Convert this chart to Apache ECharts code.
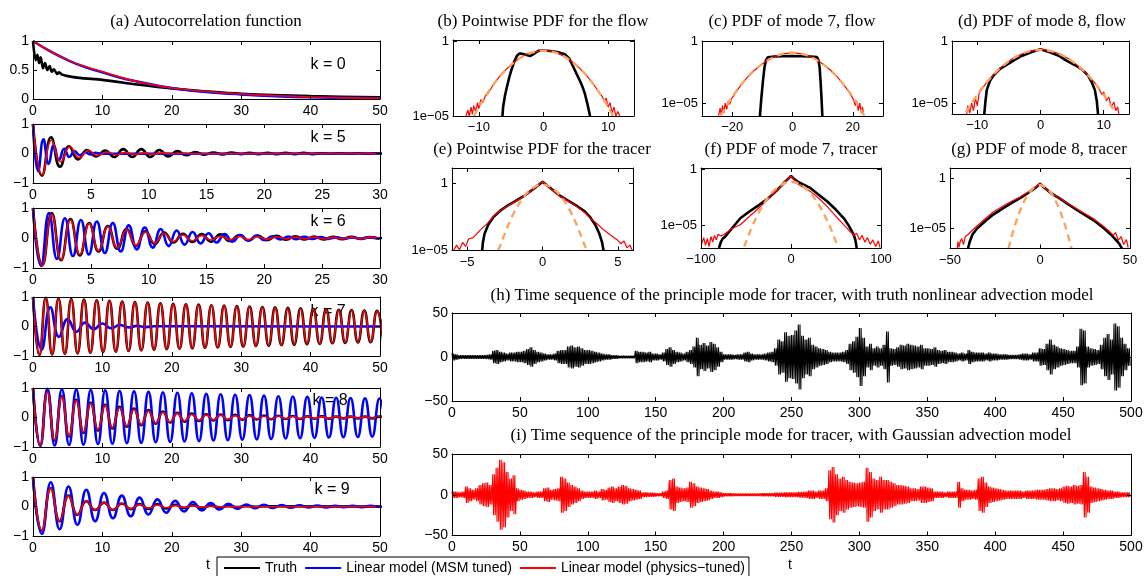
<!DOCTYPE html>
<html>
<head>
<meta charset="utf-8">
<script src="https://cdn.jsdelivr.net/npm/echarts@6/dist/echarts.min.js"></script>
<style>html,body{margin:0;padding:0;background:#fff}#chart{width:1146px;height:576px}</style>
</head>
<body>
<div id="chart"></div>
<script>
// ---------- (a) autocorrelation functions ----------
// k = 0: lags and values
const k0Lag   = [0, 0.38, 0.63, 0.87, 1.1, 1.44, 1.73, 2.07, 2.4, 2.7, 3.0, 3.5, 3.75, 4.2, 5.2, 7, 10, 15, 20, 25, 30, 40, 50];
const k0Truth = [1, 0.67, 0.76, 0.62, 0.72, 0.53, 0.62, 0.5, 0.57, 0.47, 0.51, 0.43, 0.46, 0.42, 0.39, 0.36, 0.33, 0.25, 0.18, 0.13, 0.09, 0.05, 0.03];
const k0FitLag = [0, 2.5, 5, 7.5, 10, 12.5, 15, 17.5, 20, 25, 30, 35, 40, 45, 50];
const k0MSM    = [1, 0.82, 0.67, 0.55, 0.46, 0.37, 0.3, 0.24, 0.19, 0.12, 0.08, 0.05, 0.03, 0.02, 0.01];
const k0Phys   = [1, 0.82, 0.67, 0.56, 0.47, 0.38, 0.3, 0.24, 0.19, 0.13, 0.086, 0.055, 0.034, 0.02, 0.011];

// k = 5..9: successive extremes of each oscillating ACF, one per half period
const k5TruthStep = 0.78;
const k5Truth = [1, -0.75, 0.55, -0.45, 0.24, -0.2, 0.12, -0.1, 0.1, -0.12, 0.15, -0.12, 0.15, -0.12, 0.12, -0.1, 0.08, -0.06, 0.05, -0.04, 0.03, -0.03, 0.03, -0.02, 0.02, -0.02, 0.02, -0.02, 0.02, -0.02, 0.02, -0.02, 0.01, -0.01, 0.01, -0.01, 0.01, -0.01, 0.01, -0.01];
const k5MSMStep = 0.45;
const k5MSM = [1, -0.6, 0.48, -0.35, 0.28, -0.22, 0.16, -0.12, 0.08, -0.06, 0.04, -0.03, 0.02, -0.01];
const k5PhysStep = 0.8;
const k5Phys = [1, -0.72, 0.45, -0.28, 0.23, -0.15, 0.1, -0.07, 0.05, -0.04, 0.03, -0.03, 0.02, -0.02, 0.02, -0.01, 0.01, -0.01];

const k6TruthStep = 0.81;
const k6Truth = [1, -0.91, 0.83, -0.74, 0.63, -0.58, 0.5, -0.45, 0.4, -0.36, 0.3, -0.26, 0.22, -0.2, 0.18, -0.15, 0.14, -0.13, 0.13, -0.12, 0.12, -0.1, 0.1, -0.09, 0.08, -0.07, 0.07, -0.06, 0.06, -0.05, 0.05, -0.05, 0.04, -0.04, 0.04, -0.03, 0.03, -0.03];
const k6MSMStep = 0.69;
const k6MSM = [1, -0.93, 0.83, -0.7, 0.66, -0.6, 0.6, -0.55, 0.55, -0.5, 0.5, -0.45, 0.42, -0.38, 0.35, -0.32, 0.3, -0.27, 0.25, -0.22, 0.2, -0.18, 0.16, -0.15, 0.13, -0.12, 0.1, -0.09, 0.08, -0.07, 0.06, -0.05, 0.05, -0.04, 0.04, -0.03, 0.03, -0.03, 0.02, -0.02, 0.02, -0.02, 0.02, -0.01, 0.01];
const k6PhysStep = 0.81;
const k6Phys = [1, -0.92, 0.78, -0.72, 0.6, -0.55, 0.48, -0.42, 0.38, -0.33, 0.28, -0.24, 0.2, -0.17, 0.15, -0.12, 0.1, -0.09, 0.08, -0.07, 0.06, -0.06, 0.05, -0.05, 0.04, -0.04, 0.04, -0.03, 0.03, -0.03, 0.03, -0.03, 0.02, -0.02, 0.02, -0.02, 0.02, -0.02];

const k7TruthStep = 0.918;
const k7Truth = [1, -0.97, 0.97, -0.95, 0.95, -0.93, 0.93, -0.91, 0.91, -0.89, 0.89, -0.87, 0.87, -0.85, 0.85, -0.83, 0.83, -0.81, 0.81, -0.79, 0.79, -0.77, 0.77, -0.75, 0.75, -0.74, 0.74, -0.72, 0.72, -0.71, 0.71, -0.69, 0.69, -0.68, 0.68, -0.66, 0.66, -0.65, 0.65, -0.63, 0.63, -0.62, 0.62, -0.6, 0.6, -0.59, 0.59, -0.57, 0.57, -0.56, 0.56, -0.54, 0.54, -0.53, 0.53, -0.52];
const k7MSMStep = 1.25;
const k7MSM = [1, -0.78, 0.65, -0.35, 0.25, -0.18, 0.13, -0.09, 0.1, -0.06, 0.05, -0.03, 0.02, -0.02, 0.01];
const k7PhysStep = 0.918;
const k7Phys = [1, -0.97, 0.96, -0.95, 0.94, -0.93, 0.92, -0.91, 0.9, -0.89, 0.88, -0.87, 0.86, -0.85, 0.84, -0.83, 0.82, -0.81, 0.8, -0.79, 0.78, -0.77, 0.76, -0.75, 0.74, -0.73, 0.73, -0.72, 0.71, -0.7, 0.7, -0.69, 0.68, -0.67, 0.67, -0.66, 0.65, -0.64, 0.64, -0.63, 0.62, -0.61, 0.61, -0.6, 0.59, -0.58, 0.58, -0.57, 0.56, -0.55, 0.55, -0.54, 0.53, -0.52, 0.52, -0.51];

const k8TruthStep = 1.04;
const k8Truth = [1, -0.95, 0.88, -0.78, 0.72, -0.64, 0.6, -0.52, 0.5, -0.44, 0.43, -0.37, 0.36, -0.31, 0.3, -0.26, 0.25, -0.21, 0.2, -0.17, 0.16, -0.14, 0.13, -0.12, 0.11, -0.1, 0.1, -0.09, 0.09, -0.08, 0.08, -0.07, 0.07, -0.06, 0.06, -0.05, 0.05, -0.05, 0.04, -0.04, 0.04, -0.04, 0.03, -0.03, 0.03, -0.03, 0.03, -0.03, 0.03, -0.03];
const k8MSMStep = 1.04;
const k8MSM = [1, -0.97, 0.97, -0.95, 0.96, -0.93, 0.95, -0.92, 0.93, -0.9, 0.92, -0.89, 0.9, -0.87, 0.89, -0.86, 0.87, -0.84, 0.85, -0.83, 0.84, -0.81, 0.82, -0.8, 0.8, -0.78, 0.79, -0.77, 0.77, -0.75, 0.76, -0.74, 0.74, -0.73, 0.72, -0.71, 0.71, -0.7, 0.7, -0.69, 0.68, -0.68, 0.67, -0.67, 0.66, -0.66, 0.65, -0.65, 0.64, -0.64];
const k8PhysStep = 1.04;
const k8Phys = [1, -0.95, 0.86, -0.76, 0.7, -0.62, 0.58, -0.5, 0.48, -0.42, 0.41, -0.35, 0.34, -0.29, 0.28, -0.24, 0.23, -0.19, 0.18, -0.15, 0.14, -0.12, 0.11, -0.1, 0.09, -0.08, 0.08, -0.07, 0.07, -0.06, 0.06, -0.05, 0.05, -0.05, 0.05, -0.04, 0.04, -0.04, 0.04, -0.03, 0.03, -0.03, 0.03, -0.03, 0.03, -0.02, 0.02, -0.02, 0.02, -0.02];

const k9TruthStep = 1.28;
const k9Truth = [1, -0.82, 0.62, -0.5, 0.37, -0.28, 0.18, -0.12, 0.13, -0.12, 0.1, -0.09, 0.08, -0.08, 0.08, -0.07, 0.06, -0.05, 0.04, -0.04, 0.03, -0.03, 0.02, -0.02, 0.02, -0.01, 0.01];
const k9MSMStep = 1.28;
const k9MSM = [1, -0.93, 0.82, -0.77, 0.68, -0.62, 0.57, -0.5, 0.46, -0.4, 0.37, -0.33, 0.3, -0.27, 0.24, -0.21, 0.19, -0.17, 0.15, -0.13, 0.12, -0.1, 0.09, -0.08, 0.07, -0.06, 0.06, -0.05, 0.05, -0.04, 0.04, -0.03, 0.03, -0.03, 0.02, -0.02, 0.02, -0.02, 0.02, -0.01, 0.01];
const k9PhysStep = 1.28;
const k9Phys = [1, -0.8, 0.62, -0.5, 0.36, -0.28, 0.18, -0.12, 0.13, -0.12, 0.1, -0.08, 0.07, -0.06, 0.05, -0.04, 0.03, -0.03, 0.02, -0.02, 0.01, -0.01];

// ---------- (b)-(g) PDFs: [x, log10 p] ----------
const pdfB_truth = [[-6.35,-5],[-6.25,-4.4],[-5.95,-3.6],[-5.63,-3.0],[-5.3,-2.4],[-4.96,-1.9],[-4.5,-1.3],[-4.1,-0.95],[-3.7,-0.79],[-3.0,-0.85],[-2.1,-0.97],[-1.4,-0.8],[-0.8,-0.62],[0,-0.6],[0.7,-0.61],[1.6,-0.66],[2.5,-0.74],[3.3,-0.85],[4.0,-1.15],[4.6,-1.69],[5.1,-2.15],[5.6,-2.6],[6.0,-3.0],[6.4,-3.5],[6.8,-4.2],[7.2,-5]];
const pdfB_model = [[-12.0,-5],[-11.7,-4.6],[-11.5,-5],[-11.2,-4.4],[-11.0,-4.9],[-10.8,-4.3],[-10.5,-4.7],[-10.2,-4.1],[-10.0,-4.5],[-9.7,-3.9],[-9.4,-4.1],[-9.0,-3.65],[-8.6,-3.5],[-8.2,-3.2],[-7.5,-2.75],[-7,-2.45],[-6,-1.95],[-5,-1.55],[-4,-1.2],[-3,-0.93],[-2,-0.74],[-1.2,-0.68],[-0.5,-0.6],[0,-0.63],[0.6,-0.6],[1.3,-0.66],[2,-0.75],[3,-0.95],[4,-1.2],[5,-1.55],[6,-1.97],[7,-2.45],[7.6,-2.8],[8.2,-3.15],[8.7,-3.5],[9.1,-3.7],[9.4,-4.0],[9.7,-3.8],[10.0,-4.4],[10.3,-4.1],[10.6,-4.8],[10.9,-4.4],[11.2,-5],[11.5,-4.7],[11.8,-5]];
const pdfB_gauss = [[-10.75,-5],[-10,-4.39],[-9,-3.67],[-8,-3.03],[-7,-2.46],[-6,-1.97],[-5,-1.56],[-4,-1.21],[-3,-0.95],[-2,-0.76],[-1,-0.65],[0,-0.61],[1,-0.65],[2,-0.76],[3,-0.95],[4,-1.21],[5,-1.56],[6,-1.97],[7,-2.46],[8,-3.03],[9,-3.67],[10,-4.39],[10.75,-5]];

const pdfC_truth = [[-10.8,-6.05],[-10.3,-4.5],[-9.8,-3.2],[-9.3,-2.1],[-8.8,-1.5],[-8.2,-1.27],[-6,-1.2],[-3,-1.18],[0,-1.17],[3,-1.18],[6,-1.2],[8.1,-1.25],[8.6,-1.5],[9.0,-2.1],[9.3,-3.2],[9.6,-4.5],[9.9,-6.05]];
const pdfC_model = [[-24.5,-6.0],[-24.0,-5.4],[-23.6,-6.0],[-23.2,-5.2],[-22.8,-5.8],[-22.3,-5.0],[-21.8,-5.5],[-21.3,-4.8],[-20.8,-5.1],[-20.2,-4.6],[-19.5,-4.4],[-18.5,-4.0],[-17,-3.5],[-15,-2.9],[-13,-2.4],[-11,-2.0],[-9,-1.62],[-7,-1.34],[-5,-1.12],[-3,-0.98],[-1,-0.92],[0,-0.9],[1,-0.92],[3,-0.98],[5,-1.12],[7,-1.34],[9,-1.62],[11,-2.0],[13,-2.4],[15,-2.9],[17,-3.5],[18.5,-4.0],[19.5,-4.4],[20.2,-4.7],[20.8,-5.2],[21.3,-4.8],[21.8,-5.6],[22.3,-5.0],[22.8,-5.8],[23.2,-5.3],[23.6,-6.0]];
const pdfC_gauss = [[-23.8,-6.0],[-22,-5.26],[-20,-4.5],[-18,-3.82],[-16,-3.2],[-14,-2.66],[-12,-2.2],[-10,-1.8],[-8,-1.48],[-6,-1.22],[-4,-1.04],[-2,-0.94],[0,-0.9],[2,-0.94],[4,-1.04],[6,-1.22],[8,-1.48],[10,-1.8],[12,-2.2],[14,-2.66],[16,-3.2],[18,-3.82],[20,-4.5],[22,-5.26],[23.8,-6.0]];

const pdfD_truth = [[-8.9,-5.9],[-8.7,-4.8],[-8.5,-3.95],[-8.0,-3.2],[-7.4,-2.76],[-6.4,-2.24],[-5.3,-1.9],[-4.3,-1.58],[-3,-1.2],[-1.5,-0.9],[0,-0.66],[1.5,-0.9],[3,-1.22],[4.1,-1.58],[5.5,-1.95],[6.6,-2.3],[7.5,-2.76],[8.1,-3.3],[8.6,-3.95],[8.9,-4.8],[9.1,-5.9]];
const pdfD_model = [[-11.7,-5.9],[-11.5,-5.2],[-11.2,-5.8],[-10.9,-5.0],[-10.6,-5.6],[-10.3,-4.6],[-10.0,-5.2],[-9.7,-4.2],[-9.3,-3.9],[-8.5,-3.3],[-7.5,-2.74],[-6.5,-2.24],[-5.5,-1.82],[-4.5,-1.45],[-3.5,-1.17],[-2.5,-0.95],[-1.5,-0.8],[-0.5,-0.7],[0,-0.68],[0.5,-0.7],[1.5,-0.8],[2.5,-0.95],[3.5,-1.17],[4.5,-1.45],[5.5,-1.82],[6.5,-2.24],[7.5,-2.74],[8.5,-3.3],[9.3,-3.9],[9.7,-4.3],[10.0,-4.1],[10.4,-4.8],[10.8,-4.5],[11.2,-5.3],[11.6,-4.9],[11.9,-5.6],[12.2,-5.3],[12.4,-5.9]];
const pdfD_gauss = [[-11.8,-5.73],[-11,-5.08],[-10,-4.32],[-9,-3.64],[-8,-3.02],[-7,-2.48],[-6,-2.02],[-5,-1.62],[-4,-1.3],[-3,-1.04],[-2,-0.86],[-1,-0.76],[0,-0.72],[1,-0.76],[2,-0.86],[3,-1.04],[4,-1.3],[5,-1.62],[6,-2.02],[7,-2.48],[8,-3.02],[9,-3.64],[10,-4.32],[11,-5.08],[11.8,-5.73]];

const pdfE_truth = [[-4.0,-5.0],[-3.95,-4.4],[-3.85,-3.8],[-3.6,-3.1],[-3.24,-2.5],[-2.8,-2.05],[-2.35,-1.7],[-1.8,-1.35],[-1.25,-0.98],[-0.6,-0.45],[0,0.1],[0.6,-0.45],[1.2,-0.98],[1.8,-1.38],[2.3,-1.72],[2.8,-2.1],[3.17,-2.55],[3.5,-3.1],[3.75,-3.7],[3.95,-4.4],[4.05,-5.0]];
const pdfE_model = [[-5.9,-5.0],[-5.7,-4.6],[-5.5,-4.95],[-5.3,-4.4],[-5.1,-4.7],[-4.9,-4.15],[-4.6,-4.05],[-4.12,-3.47],[-3.7,-3.05],[-3.24,-2.45],[-2.8,-2.05],[-2.35,-1.73],[-1.8,-1.38],[-1.25,-1.0],[-0.6,-0.45],[0,0.12],[0.6,-0.47],[1.18,-1.0],[1.8,-1.4],[2.29,-1.75],[2.8,-2.2],[3.17,-2.6],[3.6,-3.0],[4.05,-3.47],[4.5,-3.85],[4.94,-4.2],[5.2,-4.5],[5.4,-4.3],[5.6,-4.8],[5.8,-4.6],[5.95,-5.0]];
const pdfE_gauss = [[-2.95,-5.0],[-2.75,-4.5],[-2.5,-3.75],[-2.25,-3.06],[-2,-2.44],[-1.75,-1.9],[-1.5,-1.43],[-1.25,-1.03],[-1,-0.7],[-0.75,-0.45],[-0.5,-0.27],[-0.25,-0.16],[0,-0.12],[0.25,-0.16],[0.5,-0.27],[0.75,-0.45],[1,-0.7],[1.25,-1.03],[1.5,-1.43],[1.75,-1.9],[2,-2.44],[2.25,-3.06],[2.5,-3.75],[2.75,-4.5],[2.95,-5.0]];

const pdfF_truth = [[-80,-7.03],[-78,-6.5],[-76,-6.2],[-73,-6.0],[-71.5,-5.84],[-64,-5.1],[-56,-4.34],[-47,-3.8],[-37.8,-3.3],[-30,-2.85],[-23,-2.4],[-15,-1.8],[-8,-1.2],[-3,-0.8],[0,-0.55],[3,-0.8],[8,-1.1],[14,-1.35],[21.4,-1.64],[30,-2.2],[40,-2.84],[50,-3.6],[58.5,-4.34],[64,-5.0],[69.6,-5.84],[71.5,-6.3],[73,-7.03]];
const pdfF_model = [[-99,-6.6],[-97,-6.1],[-95,-6.8],[-93,-6.2],[-91,-6.9],[-89,-6.0],[-87,-6.5],[-85,-5.9],[-83,-6.3],[-81,-5.8],[-78,-5.95],[-74.8,-5.84],[-66,-5.3],[-56.3,-4.94],[-47,-4.25],[-37.8,-3.6],[-30,-3.0],[-23,-2.4],[-15,-1.8],[-8,-1.2],[-3,-0.8],[0,-0.55],[3,-0.85],[8,-1.3],[14,-1.6],[21.4,-1.95],[30,-2.5],[40,-3.3],[50,-4.2],[58.5,-4.94],[65,-5.5],[70,-5.9],[73,-5.7],[76,-6.3],[79,-5.9],[82,-6.5],[85,-6.1],[88,-6.7],[91,-6.3],[94,-6.9],[97,-6.4],[99,-7.0]];
const pdfF_gauss = [[-52,-6.9],[-50,-6.48],[-45,-5.45],[-40,-4.54],[-35,-3.73],[-30,-3.04],[-25,-2.44],[-20,-1.96],[-15,-1.58],[-10,-1.32],[-5,-1.15],[0,-1.1],[5,-1.15],[10,-1.32],[15,-1.58],[20,-1.96],[25,-2.44],[30,-3.04],[35,-3.73],[40,-4.54],[45,-5.45],[50,-6.48],[52,-6.9]];

const pdfG_truth = [[-40,-7.0],[-39,-6.3],[-37.5,-5.6],[-35,-5.0],[-30,-4.2],[-26,-3.6],[-20,-2.9],[-15,-2.35],[-11.1,-1.95],[-6,-1.35],[-2,-0.85],[0,-0.5],[2,-0.85],[6,-1.45],[11.1,-2.0],[16,-2.6],[22,-3.3],[29.6,-4.15],[35,-4.9],[40,-5.7],[42,-6.1],[44,-6.5],[45.5,-7.0]];
const pdfG_model = [[-46,-7.0],[-45.5,-6.3],[-45,-6.9],[-44.4,-6.34],[-43.5,-6.0],[-42.5,-6.6],[-41.5,-5.8],[-40,-5.6],[-35,-4.75],[-30,-3.95],[-26,-3.34],[-20,-2.7],[-15,-2.2],[-11.1,-1.84],[-6,-1.3],[-2,-0.8],[0,-0.45],[2,-0.85],[6,-1.45],[11.1,-2.0],[16,-2.55],[22,-3.2],[29.6,-4.0],[35,-4.75],[38,-5.2],[40.7,-5.67],[42,-5.4],[43.5,-6.2],[45,-5.8],[46.5,-6.6],[48,-6.1],[49,-6.9]];
const pdfG_gauss = [[-17.5,-7.0],[-16,-5.97],[-14,-4.73],[-12,-3.65],[-10,-2.74],[-8,-2.0],[-6,-1.42],[-4,-1.0],[-2,-0.75],[0,-0.67],[2,-0.75],[4,-1.0],[6,-1.42],[8,-2.0],[10,-2.74],[12,-3.65],[14,-4.73],[16,-5.97],[17.5,-7.0]];

// ---------- (h),(i) time sequences: burst amplitude per 2.5 time units ----------
const seqBin = 2.5;
const seqTruthAmp = [
  4,3,2,2,2,2,2,2,2,2,
  2.5,3,7,8,6,5,4,5,5,6,
  6,7,9,11,8,6,5,4,3,3,
  4,7,8,8,12,13,11,12,10,8,
  8,7,6,5,4,3,3,2,2,1.5,
  1.5,1.5,1.5,1.5,7,6,6,5,6,4,
  4,3,5,9,11,8,6,5,4,6,
  8,12,22,14,16,13,17,15,11,6,
  3,3,3,2.5,3,3,5,6,4,3,
  3,3,4,5,6,10,20,18,28,24,
  25,30,37,24,20,22,14,12,10,9,
  8,6,5,5,5,6,8,15,18,23,
  33,22,12,15,10,12,10,14,29,10,
  9,11,14,13,15,14,13,12,14,10,
  10,9,11,8,7,8,6,6,5,4,
  5,4,8,6,5,5,5,4,5,4,
  4,3,3,3,2.5,2.5,2.5,3,4,4,
  3,5,5,10,9,15,20,14,12,10,
  9,8,7,7,12,32,30,12,10,9,
  8,14,22,26,20,38,35,22,15,10
];
const seqGaussAmp = [
  4,4,3,4,10,8,6,8,12,14,
  15,12,25,33,43,40,28,20,24,8,
  6,5,4,4,3,4,4,8,9,6,
  7,8,22,20,15,12,10,8,5,4,
  4,4,5,4,7,6,9,10,8,10,
  12,11,8,7,6,5,3,3,2.5,2.5,
  2,2,4,5,18,20,10,9,8,9,
  16,14,10,9,8,7,5,4,4,3,
  2,2,2,1.5,1.5,1.5,1.5,1.5,1.5,1.5,
  1.5,2,2,2,2,2.5,2.5,2.5,3,3,
  3,3,3.5,3.5,4,5,5,4,5,5,
  8,30,34,25,20,22,18,16,15,14,
  15,16,33,28,20,18,22,18,18,16,
  14,12,12,11,10,8,8,7,10,10,
  9,8,4,4,4,3,4,4,4,16,
  8,6,6,5,6,20,22,15,10,9,
  8,7,6,5,5,5,5,5,4,5,
  5,5,6,6,6,7,8,8,7,8,
  10,11,10,12,11,12,28,22,10,9,
  8,7,6,5,5,4,4,3,3,3
];

// ---------- drawing ----------
const SANS = 'Liberation Sans, Arial, Helvetica, sans-serif';
const SERIF = '"Liberation Serif", "Times New Roman", serif';
const BLACK = '#000000', BLUE = '#0000ff', RED = '#ff0000', ORANGE = '#f9a560';
const N_TRUTH = 'Truth', N_MSM = 'Linear model (MSM tuned)', N_PHYS = 'Linear model (physics\u2212tuned)';

const minusFmt = v => String(v).replace('-', '\u2212');
const logFmt = v => (v > 0.5 ? '1' : '1e\u221205');

const grids = [], xAxes = [], yAxes = [], series = [];

function addPanel(rect, xo, yo) {
  const g = grids.length;
  grids.push({ left: rect[0], top: rect[1], width: rect[2], height: rect[3] });
  const ls = { color: '#000', width: 1 };
  const mk = (dim, o, pos, showLabel) => {
    const ax = {
      gridIndex: g, position: pos, type: o.type || 'value', min: o.min, max: o.max,
      splitLine: { show: false },
      axisLine: { show: true, onZero: false, lineStyle: ls },
      axisTick: { show: true, inside: true, length: 4, lineStyle: ls },
      axisLabel: { show: showLabel, margin: dim === 'x' ? 5 : 4, color: '#000',
                   fontFamily: SANS, fontSize: o.fs, formatter: o.fmt || minusFmt },
      z: 4
    };
    if (o.type === 'log') ax.logBase = 10;
    if (o.interval != null) ax.interval = o.interval;
    if (o.ticks) { ax.axisTick.customValues = o.ticks; ax.axisLabel.customValues = o.ticks; }
    return ax;
  };
  const xi = xAxes.length;
  xAxes.push(mk('x', xo, 'bottom', true), mk('x', xo, 'top', false));
  const yi = yAxes.length;
  yAxes.push(mk('y', yo, 'left', true), mk('y', yo, 'right', false));
  return { x: xi, y: yi };
}

function addLine(ax, name, color, width, data, extra) {
  series.push(Object.assign({
    type: 'line', name, xAxisIndex: ax.x, yAxisIndex: ax.y, data,
    showSymbol: false, symbol: 'none', clip: true, animation: false, silent: true,
    itemStyle: { color }, lineStyle: { color, width }, z: 3
  }, extra || {}));
}

// successive extremes placed one half period apart
function extremaCurve(ext, step, xmax) {
  const pts = ext.map((v, i) => [i * step, v]);
  if (xmax - pts[pts.length - 1][0] > step) pts.push([xmax, 0]);
  return pts;
}
const pairs = (xs, ys) => xs.map((x, i) => [x, ys[i]]);
const pdfPts = arr => arr.map(([x, lg]) => [x, Math.pow(10, lg)]);
// fast oscillation filling each bin up to its amplitude
function burst(amp, bin, swings) {
  const pts = [], dt = bin / swings;
  amp.forEach((a, i) => {
    for (let k = 0; k < swings; k++) pts.push([i * bin + k * dt, k % 2 ? -a : a]);
  });
  return pts;
}

// (a) autocorrelation panels
const accY = { min: -1, max: 1, interval: 1, fs: 14 };
const acc = [
  { rect: [33, 41, 347, 58], x: { min: 0, max: 50, interval: 10, fs: 14 }, y: { min: 0, max: 1, interval: 0.5, fs: 14 } },
  { rect: [33, 124, 347, 59], x: { min: 0, max: 30, interval: 5, fs: 14 }, y: accY },
  { rect: [33, 208, 347, 60], x: { min: 0, max: 30, interval: 5, fs: 14 }, y: accY },
  { rect: [33, 297, 347, 59], x: { min: 0, max: 50, interval: 10, fs: 14 }, y: accY },
  { rect: [33, 388, 347, 59], x: { min: 0, max: 50, interval: 10, fs: 14 }, y: accY },
  { rect: [33, 477, 347, 59], x: { min: 0, max: 50, interval: 10, fs: 14 }, y: accY }
];
const accAx = acc.map(p => addPanel(p.rect, p.x, p.y));
const SM = { smooth: 0.5 };

addLine(accAx[0], N_TRUTH, BLACK, 2.6, pairs(k0Lag, k0Truth), { smooth: 0.3 });
addLine(accAx[0], N_MSM, BLUE, 2.6, pairs(k0FitLag, k0MSM), SM);
addLine(accAx[0], N_PHYS, RED, 1.6, pairs(k0FitLag, k0Phys), SM);

const oscSets = [
  [k5Truth, k5TruthStep, k5MSM, k5MSMStep, k5Phys, k5PhysStep, 30],
  [k6Truth, k6TruthStep, k6MSM, k6MSMStep, k6Phys, k6PhysStep, 30],
  [k7Truth, k7TruthStep, k7MSM, k7MSMStep, k7Phys, k7PhysStep, 50],
  [k8Truth, k8TruthStep, k8MSM, k8MSMStep, k8Phys, k8PhysStep, 50],
  [k9Truth, k9TruthStep, k9MSM, k9MSMStep, k9Phys, k9PhysStep, 50]
];
oscSets.forEach((s, i) => {
  const ax = accAx[i + 1];
  addLine(ax, N_TRUTH, BLACK, 2.6, extremaCurve(s[0], s[1], s[6]), SM);
  addLine(ax, N_MSM, BLUE, 2.6, extremaCurve(s[2], s[3], s[6]), SM);
  addLine(ax, N_PHYS, RED, 1.6, extremaCurve(s[4], s[5], s[6]), SM);
});

// (b)-(g) PDF panels
const logY = (lo, hi) => ({ type: 'log', min: Math.pow(10, lo), max: Math.pow(10, hi), ticks: [1e-5, 1], fmt: logFmt, fs: 13 });
const pdfPanels = [
  { rect: [453, 40, 181, 76],   x: { min: -14, max: 14, ticks: [-10, 0, 10], fs: 13 },   y: logY(-5, 0.11),    d: [pdfB_truth, pdfB_model, pdfB_gauss] },
  { rect: [702, 41, 181, 75],   x: { min: -30, max: 30, ticks: [-20, 0, 20], fs: 13 },   y: logY(-6.04, 0.06), d: [pdfC_truth, pdfC_model, pdfC_gauss] },
  { rect: [952, 41, 177, 73],   x: { min: -14, max: 14, ticks: [-10, 0, 10], fs: 13 },   y: logY(-5.87, 0),    d: [pdfD_truth, pdfD_model, pdfD_gauss] },
  { rect: [452, 168, 181, 82.5],x: { min: -6, max: 6, ticks: [-5, 0, 5], fs: 13 },       y: logY(-5, 1.11),    d: [pdfE_truth, pdfE_model, pdfE_gauss] },
  { rect: [701, 168, 180, 80],  x: { min: -100, max: 100, ticks: [-100, 0, 100], fs: 13 }, y: logY(-7.03, 0.15), d: [pdfF_truth, pdfF_model, pdfF_gauss] },
  { rect: [950, 168, 180, 80.5],x: { min: -50, max: 50, ticks: [-50, 0, 50], fs: 13 },   y: logY(-7, 1.06),    d: [pdfG_truth, pdfG_model, pdfG_gauss] }
];
pdfPanels.forEach(p => {
  const ax = addPanel(p.rect, p.x, p.y);
  addLine(ax, N_TRUTH, BLACK, 2.6, pdfPts(p.d[0]));
  addLine(ax, N_PHYS, RED, 1.2, pdfPts(p.d[1]));
  addLine(ax, 'Gaussian fit', ORANGE, 2.4, pdfPts(p.d[2]), { smooth: 0.3, lineStyle: { color: ORANGE, width: 2.4, type: [7, 5] } });
});

// (h),(i) time sequences
const seqX = { min: 0, max: 500, interval: 50, fs: 14 };
const seqY = { min: -50, max: 50, interval: 50, fs: 14 };
const axH = addPanel([452, 313, 679, 88], seqX, seqY);
const axI = addPanel([452, 454, 679, 81.5], seqX, seqY);
addLine(axH, 'Truth nonlinear advection', BLACK, 1.1, burst(seqTruthAmp, seqBin, 4));
addLine(axI, 'Gaussian advection', RED, 1.1, burst(seqGaussAmp, seqBin, 4));

// titles and annotations
const serifTexts = [
  ['(a) Autocorrelation function', 206, 22],
  ['(b) Pointwise PDF for the flow', 543, 22],
  ['(c) PDF of mode 7, flow', 792, 22],
  ['(d) PDF of mode 8, flow', 1042, 22],
  ['(e) Pointwise PDF for the tracer', 542, 150],
  ['(f) PDF of mode 7, tracer', 791, 150],
  ['(g) PDF of mode 8, tracer', 1039, 150],
  ['(h) Time sequence of the principle mode for tracer, with truth nonlinear advection model', 792, 296],
  ['(i) Time sequence of the principle mode for tracer, with Gaussian advection model', 791, 436]
];
const kTexts = [['k = 0', 328, 65], ['k = 5', 328, 138], ['k = 6', 328, 222], ['k = 7', 328, 312], ['k = 8', 330, 401], ['k = 9', 332, 490]];
const graphic = [];
serifTexts.forEach(t => graphic.push({ type: 'text', x: t[1], y: t[2], z: 10, silent: true,
  style: { text: t[0], font: '17px ' + SERIF, fill: '#000', align: 'center', verticalAlign: 'middle' } }));
kTexts.forEach(t => graphic.push({ type: 'text', x: t[1], y: t[2], z: 0, silent: true,
  style: { text: t[0], font: '16px ' + SANS, fill: '#000', align: 'center', verticalAlign: 'middle' } }));
[['t', 208, 565], ['t', 790, 565]].forEach(t => graphic.push({ type: 'text', x: t[1], y: t[2], z: 10, silent: true,
  style: { text: t[0], font: '14px ' + SANS, fill: '#000', align: 'center', verticalAlign: 'middle' } }));

const chart = echarts.init(document.getElementById('chart'), null, { renderer: 'canvas' });
chart.setOption({
  animation: false,
  backgroundColor: '#ffffff',
  grid: grids,
  xAxis: xAxes,
  yAxis: yAxes,
  series,
  graphic,
  legend: {
    data: [N_TRUTH, N_MSM, N_PHYS],
    icon: 'rect',
    left: 217, top: 557,
    itemWidth: 36, itemHeight: 2, itemGap: 8,
    padding: [4, 4, 4, 7],
    borderColor: '#000', borderWidth: 1, backgroundColor: '#fff',
    selectedMode: false,
    textStyle: { fontFamily: SANS, fontSize: 14, color: '#000' }
  }
});
</script>
</body>
</html>
